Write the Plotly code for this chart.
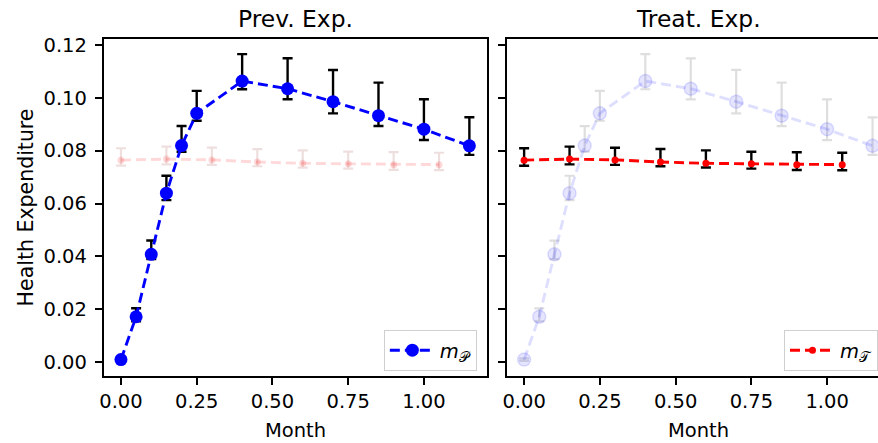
import plotly.graph_objects as go

# ---------------- data ----------------
months_p = [0.0, 0.05, 0.10, 0.15, 0.20, 0.25, 0.40, 0.55, 0.70, 0.85, 1.00, 1.15]
m_p = [0.0010, 0.0172, 0.0408, 0.0639, 0.0819, 0.0941, 0.1063, 0.1034, 0.0985, 0.0932, 0.0881, 0.0818]
m_p_upper = [0.0015, 0.0204, 0.0460, 0.0705, 0.0893, 0.1026, 0.1165, 0.1149, 0.1105, 0.1057, 0.0994, 0.0926]
m_p_lower = [0.0005, 0.0155, 0.0390, 0.0613, 0.0796, 0.0913, 0.1032, 0.0994, 0.0941, 0.0893, 0.0840, 0.0784]

months_t = [0.0, 0.15, 0.30, 0.45, 0.60, 0.75, 0.90, 1.05]
m_t = [0.0764, 0.0768, 0.0765, 0.0757, 0.0752, 0.0750, 0.0747, 0.0747]
m_t_upper = [0.0809, 0.0815, 0.0811, 0.0806, 0.0801, 0.0796, 0.0794, 0.0792]
m_t_lower = [0.0743, 0.0748, 0.0746, 0.0741, 0.0736, 0.0732, 0.0727, 0.0726]

x_ticks = [0.0, 0.25, 0.5, 0.75, 1.0]
x_tick_labels = ["0.00", "0.25", "0.50", "0.75", "1.00"]
y_ticks = [0.0, 0.02, 0.04, 0.06, 0.08, 0.10, 0.12]
y_tick_labels = ["0.00", "0.02", "0.04", "0.06", "0.08", "0.10", "0.12"]

panel_titles = ["Prev. Exp.", "Treat. Exp."]
x_label = "Month"
y_label = "Health Expenditure"
label_p = "<i>m</i><sub>𝒫</sub>"
label_t = "<i>m</i><sub>𝒯</sub>"

# ---------------- figure ----------------
W, H = 878, 443
FONT = "DejaVu Sans"
TICK_FS = 19.5

def err(mean, upper, lower):
    return [u - m for u, m in zip(upper, mean)], [m - l for m, l in zip(mean, lower)]

ep_plus, ep_minus = err(m_p, m_p_upper, m_p_lower)
et_plus, et_minus = err(m_t, m_t_upper, m_t_lower)

fig = go.Figure()

# faint overlays (drawn first)
fig.add_trace(go.Scatter(
    x=months_t, y=m_t, xaxis="x", yaxis="y", mode="lines+markers", showlegend=False,
    line=dict(color="rgba(255,0,0,0.15)", width=2.9, dash="10px,5px"),
    marker=dict(size=7, color="rgba(255,0,0,0.15)", line=dict(width=0)),
    error_y=dict(type="data", symmetric=False, array=et_plus, arrayminus=et_minus,
                 color="rgba(120,0,0,0.13)", thickness=2.2, width=5),
))
fig.add_trace(go.Scatter(
    x=months_p, y=m_p, xaxis="x2", yaxis="y2", mode="lines+markers", showlegend=False,
    line=dict(color="rgba(0,0,255,0.13)", width=2.9, dash="10px,5px"),
    marker=dict(size=13, color="rgba(0,0,255,0.10)", line=dict(width=1.5, color="rgba(0,0,255,0.12)")),
    error_y=dict(type="data", symmetric=False, array=ep_plus, arrayminus=ep_minus,
                 color="rgba(0,0,0,0.13)", thickness=2.2, width=5),
))

# main series
fig.add_trace(go.Scatter(
    x=months_p, y=m_p, xaxis="x", yaxis="y", mode="lines+markers", name=label_p, legend="legend",
    line=dict(color="#0000ff", width=2.9, dash="10px,5px"),
    marker=dict(size=13, color="#0000ff"),
    error_y=dict(type="data", symmetric=False, array=ep_plus, arrayminus=ep_minus,
                 color="black", thickness=2.4, width=5),
))
fig.add_trace(go.Scatter(
    x=months_t, y=m_t, xaxis="x2", yaxis="y2", mode="lines+markers", name=label_t, legend="legend2",
    line=dict(color="#ff0000", width=2.9, dash="10px,5px"),
    marker=dict(size=7, color="#ff0000"),
    error_y=dict(type="data", symmetric=False, array=et_plus, arrayminus=et_minus,
                 color="black", thickness=2.4, width=5),
))

# geometry (pixels)
L1, R1 = 100, 485
L2, R2 = 505, 878
TOP, BOT = 39, 376

axis_common = dict(
    showline=True, linecolor="black", linewidth=1.5, ticks="outside", ticklen=7,
    tickwidth=1.5, tickcolor="black", showgrid=False, zeroline=False,
    tickfont=dict(family=FONT, size=TICK_FS, color="black"),
)
xr1 = [-0.0575, 1.2075]
xr2 = [-0.0575, -0.0575 + (R2 - L2) / (R1 - L1) * (xr1[1] - xr1[0])]
yr = [-0.0052, 0.1222]

def py(px):  # pixel y -> paper y (plot area)
    return (BOT - px) / (BOT - TOP)

legend_common = dict(
    yanchor="top", y=py(330), bgcolor="white", bordercolor="#d0d0d0", borderwidth=1,
    itemwidth=45, font=dict(family=FONT, size=TICK_FS, color="black"),
)

fig.update_layout(
    width=W, height=H, margin=dict(l=0, r=0, t=TOP, b=H - BOT),
    paper_bgcolor="white", plot_bgcolor="white",
    font=dict(family=FONT, size=TICK_FS, color="black"),
    xaxis=dict(domain=[L1 / W, R1 / W], range=xr1, anchor="y", mirror=True,
               tickvals=x_ticks, ticktext=x_tick_labels, **axis_common),
    yaxis=dict(domain=[0, 1], range=yr, anchor="x", mirror=True, ticklabelstandoff=4,
               tickvals=y_ticks, ticktext=y_tick_labels, **axis_common),
    xaxis2=dict(domain=[L2 / W, 1.0], range=xr2, anchor="y2", mirror=True,
                tickvals=x_ticks, ticktext=x_tick_labels, **axis_common),
    yaxis2=dict(domain=[0, 1], range=yr, anchor="x2", mirror=False,
                tickvals=y_ticks, showticklabels=False, **axis_common),
    legend=dict(x=(R1 - 10) / W, xanchor="right", **legend_common),
    legend2=dict(x=1.0, xanchor="right", **legend_common),
)

annos = [
    dict(text=panel_titles[0], x=(L1 + R1) / 2 / W, y=py(19), font=dict(size=23.4)),
    dict(text=panel_titles[1], x=697.5 / W, y=py(19), font=dict(size=23.4)),
    dict(text=x_label, x=(L1 + R1) / 2 / W, y=py(430)),
    dict(text=x_label, x=697.5 / W, y=py(430)),
    dict(text=y_label, x=22 / W, y=0.5, textangle=-90, font=dict(size=20.5)),
]
for a in annos:
    fig.add_annotation(xref="paper", yref="paper", xanchor="center", yanchor="middle",
                       showarrow=False, font=a.pop("font", dict(size=TICK_FS)), **a)

fig.write_html("out.html")
